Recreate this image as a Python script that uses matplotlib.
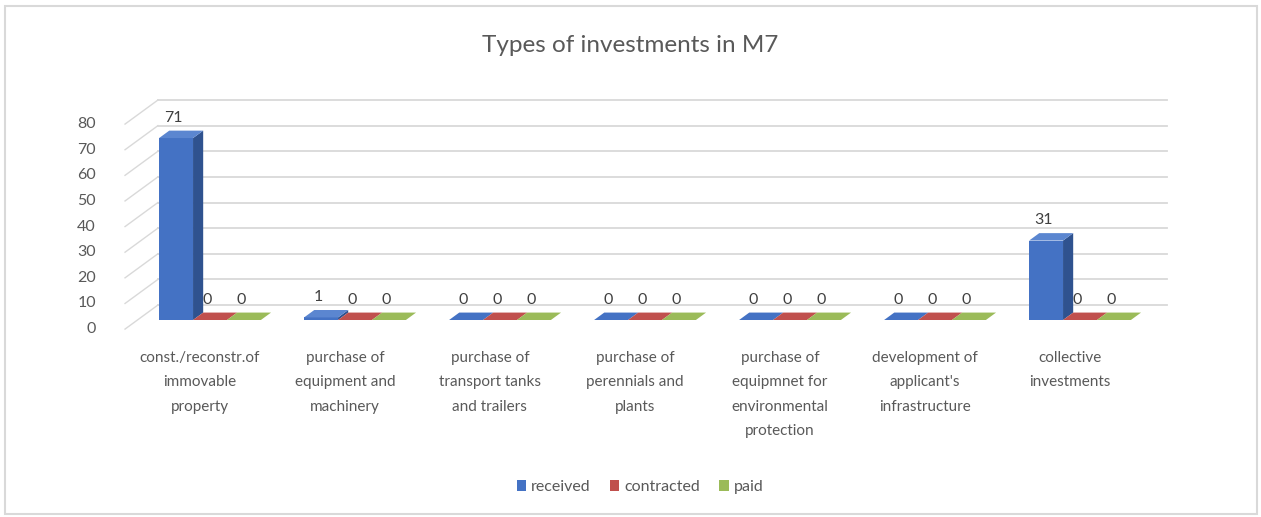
import matplotlib.pyplot as plt
from matplotlib.patches import Polygon, Rectangle, Patch

plt.rcParams['font.family'] = ['Lato', 'DejaVu Sans']

# data
categories = ["const./reconstr.of\nimmovable\nproperty",
              "purchase of\nequipment and\nmachinery",
              "purchase of\ntransport tanks\nand trailers",
              "purchase of\nperennials and\nplants",
              "purchase of\nequipmnet for\nenvironmental\nprotection",
              "development of\napplicant's\ninfrastructure",
              "collective\ninvestments"]
received = [71, 1, 0, 0, 0, 0, 31]
contracted = [0, 0, 0, 0, 0, 0, 0]
paid = [0, 0, 0, 0, 0, 0, 0]
series_names = ["received", "contracted", "paid"]
yticks = [0, 10, 20, 30, 40, 50, 60, 70, 80]

# front, side, top colours per series
colors = [("#4472C4", "#2F528F", "#5B86D0"),
          ("#C0504D", "#8C3836", "#D0706D"),
          ("#9BBB59", "#71893F", "#AECB72")]

fig = plt.figure(figsize=(12.61, 5.17), dpi=100)
ax = fig.add_axes([137.5/1261, 197/517, 1015/1261, 205/517])
ax.set_xlim(-0.5, 6.5)
ax.set_ylim(0, 80)
ax.axis('off')

# pseudo 3d offsets (data units)
DX, DY = 0.07, 2.9          # bar depth
BX0, BX1, BY = -0.359, 6.6, 5.85   # back wall
LX, LY = -0.227, -9.4       # left wall depth
grid_c = "#D9D9D9"

for v in yticks:
    ax.plot([BX0, BX1], [v + BY, v + BY], color=grid_c, lw=1.3, clip_on=False, zorder=1)
    ax.plot([BX0 + LX, BX0], [v + BY + LY, v + BY], color=grid_c, lw=1.0, clip_on=False, zorder=1)
    ax.text(BX0 + LX - 0.2, v + BY + LY, str(v), ha='right', va='center',
            fontsize=11.5, color="#595959", clip_on=False)

bw = 0.234
for s, vals in enumerate([received, contracted, paid]):
    cf, cs, ct = colors[s]
    for i, v in enumerate(vals):
        x0 = i + (s - 1.5) * bw
        x1 = x0 + bw
        z = 10 + i * 3 + s
        ax.add_patch(Polygon([(x0, 0), (x1, 0), (x1, v), (x0, v)], closed=True,
                             fc=cf, ec='none', clip_on=False, zorder=z))
        ax.add_patch(Polygon([(x1, 0), (x1 + DX, DY), (x1 + DX, v + DY), (x1, v)], closed=True,
                             fc=cs, ec='none', clip_on=False, zorder=z))
        ax.add_patch(Polygon([(x0, v), (x1, v), (x1 + DX, v + DY), (x0 + DX, v + DY)], closed=True,
                             fc=ct if v > 0 else cf, ec='none', clip_on=False, zorder=z))
        ax.text((x0 + x1) / 2 - 0.02, v + 8, str(v), ha='center', va='center',
                fontsize=11.5, color="#404040", clip_on=False, zorder=50)

for i, lab in enumerate(categories):
    ax.text(i - 0.07, -12.0, lab, ha='center', va='top', fontsize=11,
            color="#595959", linespacing=1.95, clip_on=False)

fig.text(0.5, 1 - 45/517, "Types of investments in M7", ha='center', va='center',
         fontsize=17.5, color="#595959")

handles = [Patch(fc=c[0], ec='none') for c in colors]
fig.legend(handles, series_names, loc='center', bbox_to_anchor=(640/1261, 1 - 487/517),
           ncol=3, frameon=False, fontsize=11.5, handlelength=0.6, handleheight=0.7,
           handletextpad=0.3, columnspacing=1.2, labelcolor="#595959")

fig.add_artist(Rectangle((5/1261, 3/517), 1252/1261, 508/517, transform=fig.transFigure,
                         fill=False, ec="#D9D9D9", lw=1.5))

fig.savefig("out.png", dpi=100)
